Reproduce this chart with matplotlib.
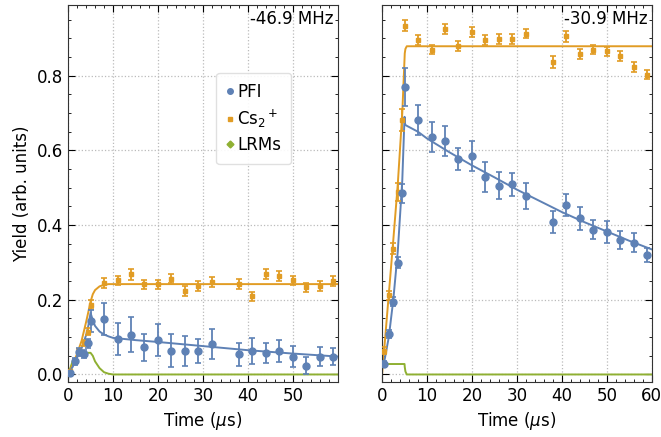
import matplotlib
matplotlib.use("Agg")
import matplotlib.pyplot as plt
from matplotlib.lines import Line2D
from matplotlib.ticker import MultipleLocator

# colours (Mathematica-like default palette)
c_pfi = '#5E81B5'
c_cs2 = '#E19C24'
c_lrm = '#8FB032'

# measured time points (us), same for both panels
t_pts = [0.5, 1.5, 2.5, 3.5, 4.5, 5, 8, 11, 14, 17, 20, 23, 26, 29, 32,
         38, 41, 44, 47, 50, 53, 56, 59]

# ---- left panel: -46.9 MHz ----
pfi_L = [0.005, 0.035, 0.060, 0.055, 0.083, 0.143, 0.148, 0.096, 0.107, 0.073,
         0.093, 0.064, 0.063, 0.063, 0.082, 0.054, 0.063, 0.057, 0.063, 0.048,
         0.024, 0.048, 0.048]
pfi_L_err = [0.008, 0.010, 0.010, 0.010, 0.012, 0.030, 0.043, 0.043, 0.047, 0.036,
             0.043, 0.045, 0.039, 0.031, 0.040, 0.030, 0.036, 0.027, 0.030, 0.028,
             0.023, 0.026, 0.022]
cs2_L = [0.008, 0.035, 0.062, 0.083, 0.115, 0.187, 0.245, 0.252, 0.268, 0.241,
         0.241, 0.257, 0.224, 0.236, 0.248, 0.243, 0.209, 0.270, 0.263, 0.252,
         0.233, 0.236, 0.250]
cs2_L_err = [0.005, 0.006, 0.007, 0.008, 0.010, 0.013, 0.013, 0.013, 0.014, 0.013,
             0.013, 0.013, 0.013, 0.013, 0.013, 0.014, 0.013, 0.013, 0.013, 0.013,
             0.013, 0.013, 0.013]

# fit curves
fit_t_L = [0, 1, 2, 3, 4, 4.5, 5, 5.5, 6, 7, 8, 9, 10, 15, 20, 30, 40, 50, 60]
fit_pfi_L = [0.0, 0.02, 0.045, 0.07, 0.105, 0.13, 0.165, 0.145, 0.13, 0.115,
             0.107, 0.102, 0.098, 0.092, 0.087, 0.076, 0.065, 0.056, 0.048]
fit_cs2_L = [0.0, 0.025, 0.055, 0.09, 0.14, 0.167, 0.195, 0.215, 0.226, 0.236,
             0.240, 0.242, 0.242, 0.242, 0.242, 0.242, 0.242, 0.242, 0.242]
fit_lrm_L = [0.0, 0.035, 0.05, 0.056, 0.058, 0.058, 0.058, 0.05, 0.035, 0.017,
             0.006, 0.002, 0.0, 0.0, 0.0, 0.0, 0.0, 0.0, 0.0]

# ---- right panel: -30.9 MHz ----
pfi_R = [0.029, 0.109, 0.195, 0.299, 0.485, 0.770, 0.682, 0.637, 0.626, 0.577,
         0.585, 0.530, 0.506, 0.509, 0.478, 0.409, 0.454, 0.418, 0.388, 0.382,
         0.360, 0.353, 0.320]
pfi_R_err = [0.008, 0.010, 0.012, 0.015, 0.025, 0.050, 0.040, 0.040, 0.040, 0.030,
             0.040, 0.040, 0.035, 0.030, 0.035, 0.030, 0.030, 0.030, 0.025, 0.030,
             0.025, 0.025, 0.020]
cs2_R = [0.064, 0.212, 0.337, 0.489, 0.682, 0.934, 0.895, 0.870, 0.926, 0.879,
         0.917, 0.895, 0.898, 0.899, 0.913, 0.837, 0.906, 0.859, 0.870, 0.865,
         0.852, 0.823, 0.803]
cs2_R_err = [0.010, 0.012, 0.015, 0.025, 0.030, 0.015, 0.013, 0.013, 0.013, 0.013,
             0.013, 0.013, 0.013, 0.013, 0.013, 0.016, 0.015, 0.013, 0.013, 0.013,
             0.013, 0.013, 0.013]

fit_t_R = [0, 0.5, 1.5, 2.5, 3.5, 4.5, 5.0, 5.05, 5.2, 5.5, 8, 10, 15, 20, 25,
           30, 35, 40, 45, 50, 55, 60]
fit_pfi_R = [0.02, 0.035, 0.10, 0.20, 0.33, 0.52, 0.69, 0.675, 0.668, 0.666,
             0.650, 0.632, 0.595, 0.56, 0.528, 0.495, 0.465, 0.435, 0.408,
             0.383, 0.358, 0.335]
fit_cs2_R = [0.0, 0.07, 0.215, 0.36, 0.51, 0.70, 0.845, 0.86, 0.872, 0.879,
             0.879, 0.879, 0.879, 0.879, 0.879, 0.879, 0.879, 0.879, 0.879,
             0.879, 0.879, 0.879]
fit_lrm_R = [0.02, 0.028, 0.028, 0.028, 0.028, 0.028, 0.028, 0.02, 0.008, 0.0,
             0.0, 0.0, 0.0, 0.0, 0.0, 0.0, 0.0, 0.0, 0.0, 0.0, 0.0, 0.0]

panels = [
    ("-46.9 MHz", fit_t_L, fit_pfi_L, fit_cs2_L, fit_lrm_L,
     pfi_L, pfi_L_err, cs2_L, cs2_L_err),
    ("-30.9 MHz", fit_t_R, fit_pfi_R, fit_cs2_R, fit_lrm_R,
     pfi_R, pfi_R_err, cs2_R, cs2_R_err),
]

plt.rcParams['font.size'] = 12
fig = plt.figure(figsize=(6.61, 4.37), dpi=100)
ax1 = fig.add_axes([0.103, 0.126, 0.408, 0.863])
ax2 = fig.add_axes([0.578, 0.126, 0.408, 0.863], sharey=ax1)
axes = [ax1, ax2]

for ax, p in zip(axes, panels):
    label, ft, fp, fc, fl, yp, ep, yc, ec = p
    ax.plot(ft, fl, color=c_lrm, lw=1.4, zorder=2)
    ax.plot(ft, fc, color=c_cs2, lw=1.4, zorder=2)
    ax.plot(ft, fp, color=c_pfi, lw=1.4, zorder=2)
    ax.errorbar(t_pts, yc, yerr=ec, fmt='s', ms=3.5, color=c_cs2,
                ecolor=c_cs2, elinewidth=1.3, capsize=2, capthick=1.2, zorder=3)
    ax.errorbar(t_pts, yp, yerr=ep, fmt='o', ms=5, color=c_pfi,
                ecolor=c_pfi, elinewidth=1.3, capsize=2, capthick=1.2, zorder=3)
    ax.text(0.985, 0.985, label, transform=ax.transAxes, ha='right', va='top',
            fontsize=12)
    ax.set_xlim(0, 60)
    ax.set_ylim(-0.02, 0.99)
    ax.xaxis.set_major_locator(MultipleLocator(10))
    ax.xaxis.set_minor_locator(MultipleLocator(2))
    ax.yaxis.set_major_locator(MultipleLocator(0.2))
    ax.yaxis.set_minor_locator(MultipleLocator(0.05))
    ax.tick_params(which='both', direction='in', top=True, right=True)
    ax.tick_params(which='major', length=5)
    ax.tick_params(which='minor', length=2.5)
    ax.grid(True, which='major', color='#bbbbbb', ls=':', lw=0.9)
    ax.set_axisbelow(True)
    ax.set_xlabel(r'Time ($\mu$s)')
    for s in ax.spines.values():
        s.set_color('#333333')

ax1.set_xticks([0, 10, 20, 30, 40, 50])
ax1.set_xlim(0, 60)
ax1.set_yticks([0.0, 0.2, 0.4, 0.6, 0.8])
ax1.set_ylabel('Yield (arb. units)')
ax2.tick_params(labelleft=False)

handles = [
    Line2D([], [], ls='none', marker='o', ms=4, color=c_pfi),
    Line2D([], [], ls='none', marker='s', ms=3.5, color=c_cs2),
    Line2D([], [], ls='none', marker='D', ms=3.5, color=c_lrm),
]
ax1.legend(handles, ['PFI', 'Cs$_2$$^+$', 'LRMs'], loc='upper left',
           bbox_to_anchor=(0.55, 0.82), handlelength=0.4, handletextpad=0.25,
           borderpad=0.6, borderaxespad=0, labelspacing=0.4, fontsize=12,
           framealpha=0.9, edgecolor='#dddddd')

fig.savefig('out.png', dpi=100)
